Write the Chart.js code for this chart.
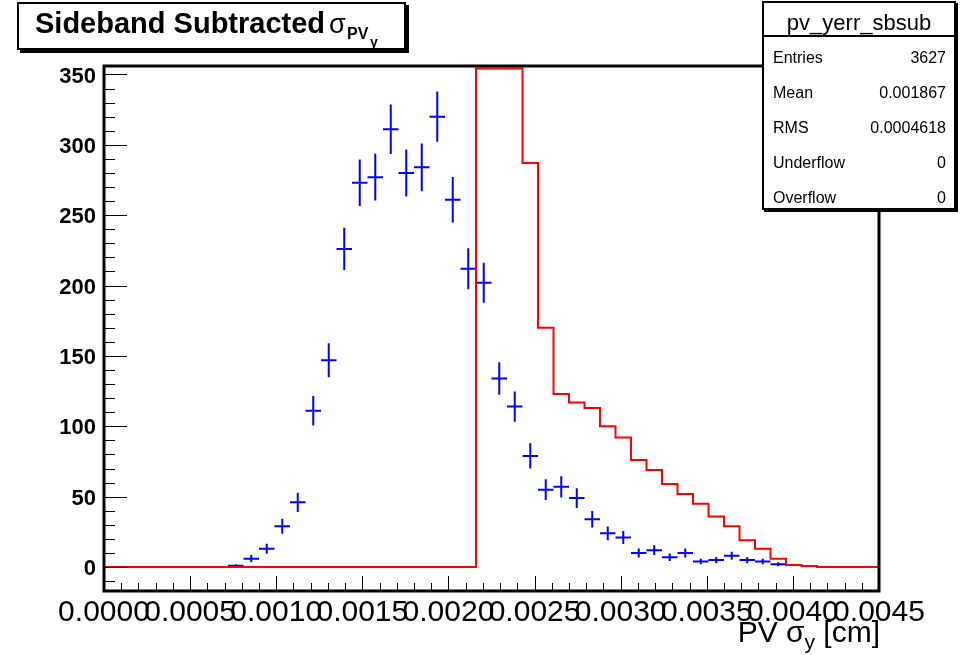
<!DOCTYPE html>
<html>
<head>
<meta charset="utf-8">
<script src="https://cdn.jsdelivr.net/npm/chart.js@4.4.1/dist/chart.umd.min.js"></script>
<style>
html, body { margin: 0; padding: 0; background: #fff; }
#wrap { position: relative; width: 964px; height: 655px; overflow: hidden; }
#c { position: absolute; left: 0; top: 0; }
.t { position: absolute; line-height: 1; white-space: nowrap; color: #000;
     font-family: "Liberation Sans", Arial, sans-serif; }
.box { position: absolute; box-sizing: border-box; background: #fff; border: 2px solid #000; }
</style>
</head>
<body>
<div id="wrap">
  <canvas id="c" width="964" height="655"></canvas>

  <!-- title pave -->
  <div class="box" style="left:17px;top:2px;width:389px;height:48px;box-shadow:3px 3px 0 #000;"></div>
  <span class="t" style="left:35px;top:8.8px;font-size:29px;font-weight:bold;">Sideband Subtracted</span>
  <span class="t" style="left:329px;top:10.5px;font-size:27px;">σ</span>
  <span class="t" style="left:347px;top:25.5px;font-size:16px;font-weight:bold;">PV</span>
  <span class="t" style="left:370px;top:35.2px;font-size:14px;font-weight:bold;">y</span>

  <!-- stats box -->
  <div class="box" style="left:762px;top:1px;width:194px;height:209px;box-shadow:2px 2px 0 #000;"></div>
  <div style="position:absolute;left:762px;top:35px;width:194px;height:2px;background:#000;"></div>
  <div class="t" style="left:762px;top:11.5px;width:194px;text-align:center;font-size:22px;">pv_yerr_sbsub</div>
  <div id="stats"></div>

  <!-- x axis title -->
  <div class="t" style="right:84px;top:617px;font-size:30px;text-align:right;">PV σ<span style="position:relative;top:7px;font-size:21px;">y</span> [cm]</div>
</div>

<script>
// binning of both histograms
const X_MIN = 0;
const X_MAX = 0.0045;
const NBINS = 50;
const BIN_W = (X_MAX - X_MIN) / NBINS;

const Y_MIN = -17;
const Y_MAX = 356;

// sideband subtracted (blue points), one entry per bin, null = empty bin
const blueCounts = [
    null, null, null, null, null, null, null, null,
    1, 6, 13, 29, 46, 111, 147, 226, 273, 277,
    311, 280, 284, 320, 261, 212, 202, 134, 114, 79,
    55, 57, 49, 34, 24, 21, 10, 12, 7, 10,
    4, 5, 8, 5, 4, 2,
    null, null, null, null, null, null
];
const blueErrors = [
    null, null, null, null, null, null, null, null,
    1, 2.5, 3.6, 5.4, 6.8, 10.5, 12.1, 15, 16.5, 16.6,
    17.6, 16.7, 16.9, 17.9, 16.2, 14.6, 14.2, 11.6, 10.7, 8.9,
    7.4, 7.5, 7, 5.8, 4.9, 4.6, 3.2, 3.5, 2.6, 3.2,
    2, 2.2, 2.8, 2.2, 2, 1.4,
    null, null, null, null, null, null
];

// reference histogram (red line)
const redCounts = [
    0, 0, 0, 0, 0, 0, 0, 0, 0, 0,
    0, 0, 0, 0, 0, 0, 0, 0, 0, 0,
    0, 0, 0, 0, 900, 760, 560, 287, 170, 123,
    117, 113, 100, 92, 76, 69, 59, 52, 45, 36,
    29, 19, 13, 6, 1.4, 0.7, 0, 0, 0, 0
];

const statLabels = ["Entries", "Mean", "RMS", "Underflow", "Overflow"];
const statValues = ["3627", "0.001867", "0.0004618", "0", "0"];

const FONT = "'Liberation Sans', Arial, sans-serif";

// stats rows
const stats = document.getElementById("stats");
statLabels.forEach((lab, i) => {
    const top = 50 + i * 35;
    stats.innerHTML += `
        <span class="t" style="left:773px;top:${top}px;font-size:16px;">${lab}</span>
        <span class="t" style="right:18px;top:${top}px;font-size:16px;">${statValues[i]}</span>`;
});

const bluePoints = [];
blueCounts.forEach((v, i) => {
    if (v === null) return;
    bluePoints.push({ x: X_MIN + (i + 0.5) * BIN_W, y: v, err: blueErrors[i] });
});

// histogram outline: two points per bin; overflowing bins are drawn just
// under the frame top, the way ROOT clips them
const redPoints = [];
redCounts.forEach((v, i) => {
    const yv = Math.min(v, Y_MAX - 1.8);
    redPoints.push({ x: X_MIN + i * BIN_W, y: yv });
    redPoints.push({ x: X_MIN + (i + 1) * BIN_W, y: yv });
});

const rootStyle = {
    id: "rootStyle",
    beforeDatasetsDraw(chart) {
        const { ctx, chartArea: a, scales: { x, y } } = chart;
        ctx.save();
        ctx.beginPath();
        ctx.rect(a.left, a.top, a.right - a.left, a.bottom - a.top);
        ctx.clip();
        ctx.strokeStyle = "#0000ff";
        ctx.lineWidth = 2;
        ctx.beginPath();
        chart.data.datasets[0].data.forEach(p => {
            const px = x.getPixelForValue(p.x);
            const py = y.getPixelForValue(p.y);
            ctx.moveTo(x.getPixelForValue(p.x - BIN_W / 2), py);
            ctx.lineTo(x.getPixelForValue(p.x + BIN_W / 2), py);
            ctx.moveTo(px, y.getPixelForValue(p.y - p.err));
            ctx.lineTo(px, y.getPixelForValue(p.y + p.err));
        });
        ctx.stroke();
        ctx.restore();
    },
    afterDatasetsDraw(chart) {
        const { ctx, chartArea: a, scales: { x, y } } = chart;
        ctx.save();
        ctx.strokeStyle = "#000";
        ctx.lineWidth = 1;
        ctx.beginPath();
        // y ticks, pointing inwards
        for (let k = -5; k <= 40; k++) {
            const v = k * 10;
            if (v < Y_MIN || v > Y_MAX) continue;
            const py = Math.round(y.getPixelForValue(v)) + 0.5;
            const len = k % 5 === 0 ? 23 : 11;
            ctx.moveTo(a.left, py);
            ctx.lineTo(a.left + len, py);
        }
        // x ticks
        for (let k = 0; k <= 45; k++) {
            const px = Math.round(x.getPixelForValue(k * 0.0001)) + 0.5;
            const len = k % 5 === 0 ? 15 : 8;
            ctx.moveTo(px, a.bottom);
            ctx.lineTo(px, a.bottom - len);
        }
        ctx.stroke();
        ctx.lineWidth = 3;
        ctx.strokeRect(a.left, a.top, a.right - a.left, a.bottom - a.top);
        ctx.restore();
    }
};

const ctx = document.getElementById("c").getContext("2d");
new Chart(ctx, {
    type: "scatter",
    data: {
        datasets: [
            {
                label: "pv_yerr_sbsub",
                data: bluePoints,
                pointRadius: 0,
                showLine: false,
                borderColor: "#0000ff"
            },
            {
                type: "line",
                label: "reference",
                data: redPoints,
                borderColor: "#ff0000",
                borderWidth: 2,
                pointRadius: 0,
                fill: false,
                tension: 0
            }
        ]
    },
    options: {
        responsive: false,
        animation: false,
        devicePixelRatio: 1,
        layout: { padding: { left: 0, right: 85, top: 66, bottom: 0 } },
        plugins: { legend: { display: false }, tooltip: { enabled: false } },
        scales: {
            x: {
                type: "linear",
                min: X_MIN,
                max: X_MAX,
                border: { display: false },
                grid: { display: false, drawTicks: false },
                ticks: {
                    stepSize: 0.0005,
                    includeBounds: false,
                    autoSkip: false,
                    maxRotation: 0,
                    padding: 4,
                    color: "#000",
                    font: { family: FONT, size: 30 },
                    callback: v => v.toFixed(4)
                },
                afterFit(s) { s.height = 64; }
            },
            y: {
                type: "linear",
                min: Y_MIN,
                max: Y_MAX,
                border: { display: false },
                grid: { display: false, drawTicks: false },
                ticks: {
                    stepSize: 50,
                    includeBounds: false,
                    padding: 8,
                    labelOffset: 2,
                    color: "#000",
                    font: { family: FONT, size: 22, weight: "bold" }
                },
                afterFit(s) { s.width = 104; }
            }
        }
    },
    plugins: [rootStyle]
});
</script>
</body>
</html>
